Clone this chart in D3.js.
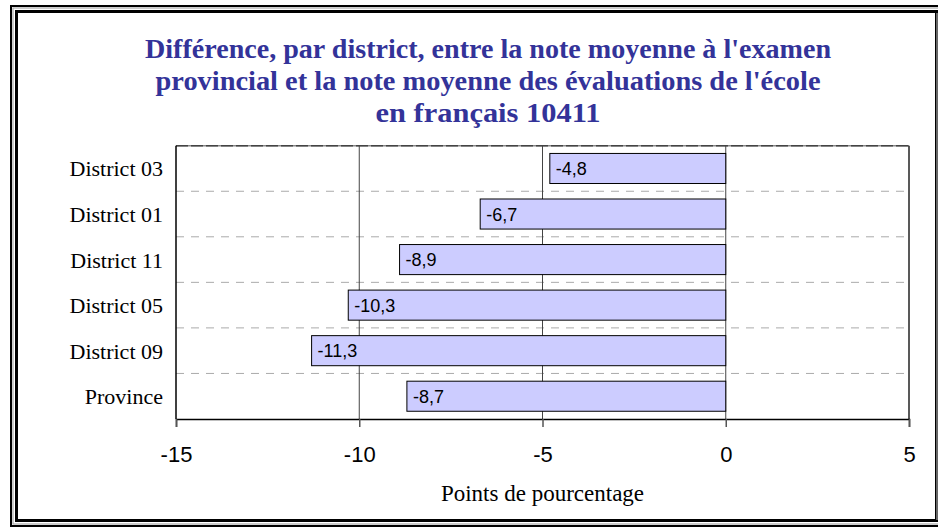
<!DOCTYPE html>
<meta charset="utf-8">
<style>
body { margin: 0; background: #fff; }
svg { display: block; }
.cat { font-family: "Liberation Serif", "Times New Roman", serif; font-size: 22px; }
.val { font-family: "Liberation Sans", Arial, sans-serif; font-size: 18px; }
.title { font-family: "Liberation Serif", "Times New Roman", serif; font-size: 27px; font-weight: bold; fill: #333399; }
</style>
<body>
<svg width="938" height="527"></svg>
</body>
<script src="https://d3js.org/d3.v7.min.js"></script>
<script>
const categories = ["District 03", "District 01", "District 11", "District 05", "District 09", "Province"];
const values = [-4.8, -6.7, -8.9, -10.3, -11.3, -8.7];
const xTicks = [-15, -10, -5, 0, 5];
const titleLines = [
    "Différence, par district, entre la note moyenne à l'examen",
    "provincial et la note moyenne des évaluations de l'école",
    "en français 10411"
];
const xTitle = "Points de pourcentage";

const svg = d3.select("svg");
const fmt = v => d3.format(".1f")(v).replace("−", "-").replace(".", ",");

// cadre double
svg.append("rect").attr("x", 11).attr("y", 6).attr("width", 940).attr("height", 520)
    .attr("fill", "none").attr("stroke", "#000").attr("stroke-width", 2);
svg.append("rect").attr("x", 13).attr("y", 8).attr("width", 936).attr("height", 516)
    .attr("fill", "none").attr("stroke", "#999").attr("stroke-width", 1);
svg.append("rect").attr("x", 16.5).attr("y", 11.5).attr("width", 920).attr("height", 509)
    .attr("fill", "#fff").attr("stroke", "#000").attr("stroke-width", 3);
svg.append("line").attr("x1", 937).attr("x2", 937).attr("y1", 13).attr("y2", 520)
    .attr("stroke", "#888").attr("stroke-width", 1.5);

// titre
const titleY = [58, 90, 122];
const titleW = [686, 665, 225];
svg.selectAll("text.title").data(titleLines).enter().append("text")
    .attr("class", "title")
    .attr("x", 488)
    .attr("y", (d, i) => titleY[i])
    .attr("text-anchor", "middle")
    .attr("textLength", (d, i) => titleW[i])
    .attr("lengthAdjust", "spacingAndGlyphs")
    .text(d => d);

const plot = { left: 176, right: 909, top: 145.7, bottom: 419 };

const x = d3.scaleLinear().domain([-15, 5]).range([plot.left, plot.right]);
const y = d3.scaleBand().domain(categories).range([plot.top, plot.bottom])
    .paddingInner(0.34).paddingOuter(0.17);

const g = svg.append("g");

// lignes horizontales pointillées entre catégories
const step = y.step();
g.selectAll("line.hgrid").data(categories.slice(1)).enter().append("line")
    .attr("x1", plot.left).attr("x2", plot.right)
    .attr("y1", d => y(d) - step * 0.17)
    .attr("y2", d => y(d) - step * 0.17)
    .attr("stroke", "#aaa").attr("stroke-dasharray", "8,7");

// bordure haute pointillée
g.append("line").attr("x1", plot.left).attr("x2", plot.right)
    .attr("y1", plot.top).attr("y2", plot.top)
    .attr("stroke", "#888").attr("stroke-width", 1.5);
g.append("line").attr("x1", plot.left).attr("x2", plot.right)
    .attr("y1", plot.top).attr("y2", plot.top)
    .attr("stroke", "#444").attr("stroke-width", 1.5).attr("stroke-dasharray", "12,3");

// grille verticale
g.selectAll("line.vgrid").data(xTicks.filter(t => t > -15 && t < 5)).enter().append("line")
    .attr("x1", d => x(d)).attr("x2", d => x(d))
    .attr("y1", plot.top).attr("y2", plot.bottom)
    .attr("stroke", "#444");
g.append("line").attr("x1", plot.right).attr("x2", plot.right)
    .attr("y1", plot.top).attr("y2", plot.bottom)
    .attr("stroke", "#222").attr("stroke-width", 1.5);

// barres
const rows = categories.map((c, i) => ({ cat: c, val: values[i] }));
g.selectAll("rect.bar").data(rows).enter().append("rect")
    .attr("x", d => x(d.val))
    .attr("y", d => y(d.cat))
    .attr("width", d => x(0) - x(d.val))
    .attr("height", y.bandwidth())
    .attr("fill", "#ccccff")
    .attr("stroke", "#000").attr("stroke-width", 1);

g.selectAll("text.val").data(rows).enter().append("text")
    .attr("class", "val")
    .attr("x", d => x(d.val) + 6)
    .attr("y", d => y(d.cat) + y.bandwidth() / 2 + 6.5)
    .text(d => fmt(d.val));

// axe gauche
g.append("line").attr("x1", plot.left).attr("x2", plot.left)
    .attr("y1", plot.top).attr("y2", plot.bottom)
    .attr("stroke", "#000").attr("stroke-width", 1.5);

g.selectAll("text.cat").data(categories).enter().append("text")
    .attr("class", "cat")
    .attr("x", plot.left - 13)
    .attr("y", d => y(d) + y.bandwidth() / 2 + 8)
    .attr("text-anchor", "end")
    .text(d => d);

// axe x
const xAxis = d3.axisBottom(x).tickValues(xTicks).tickSize(8).tickPadding(19)
    .tickFormat(d => d3.format("d")(d).replace("−", "-"));
const ax = svg.append("g").attr("transform", `translate(0,${plot.bottom})`).call(xAxis);
ax.select(".domain").attr("stroke", "#000").attr("stroke-width", 1.5);
ax.selectAll(".tick line").attr("stroke", "#555").attr("stroke-width", 1.5);
ax.selectAll(".tick text").attr("fill", "#000")
    .style("font-family", "'Liberation Sans', Arial, sans-serif").style("font-size", "22px");

svg.append("text")
    .attr("x", (plot.left + plot.right) / 2)
    .attr("y", 501)
    .attr("text-anchor", "middle")
    .style("font-family", "'Liberation Serif', 'Times New Roman', serif")
    .style("font-size", "23px")
    .text(xTitle);
</script>
